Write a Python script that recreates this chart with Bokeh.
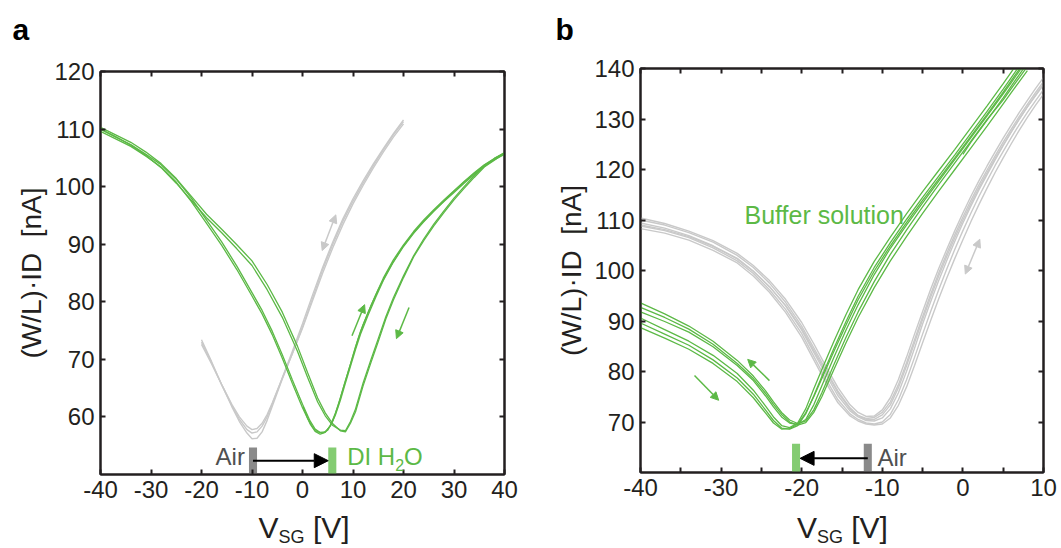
from bokeh.plotting import figure
from bokeh.models import (Range1d, LinearAxis, FixedTicker, Label, Arrow, NormalHead,
                          CustomJSTickFormatter, Title)
from bokeh.layouts import row, column
from bokeh.embed import file_html
from bokeh.resources import INLINE

# ================= DATA : panel a (DI water) =================
a_xticks = [-40, -30, -20, -10, 0, 10, 20, 30, 40]
a_yticks = [60, 70, 80, 90, 100, 110, 120]

# green, forward sweep that starts at 0 V
a_g0_x = [0.1, 1, 2, 3, 4, 5, 6, 7, 8, 9, 10, 11, 12, 13.5, 15, 16.5, 18, 20, 22, 24,
          26, 28, 30, 32, 34, 36, 38, 40]
a_g0_y = [61.8, 59.8, 58.2, 57.4, 57.2, 57.7, 59.3, 61.8, 64.8, 67.7, 70.6, 73.5, 76.0, 79.2,
          82.1, 84.7, 87.0, 89.7, 92.0, 94.0, 95.8, 97.5, 99.2, 100.8, 102.3, 103.7, 104.9, 105.9]
# green, forward sweeps
a_gf_x = [-40, -37, -34, -31, -28, -25, -22, -19, -16, -13, -10, -8, -6, -4, -2, 0, 1.5, 2.5,
          3.5, 4.5, 5.5, 6.5, 7.5, 8.5, 9.5, 10.5, 11.5, 13, 14.5, 16, 18, 20, 22, 24, 26, 28,
          30, 32, 34, 36, 38, 40]
a_gf1_y = [109.6, 108.3, 107.0, 105.3, 103.4, 100.8, 97.4, 93.6, 89.8, 85.6, 81.0, 77.9, 74.3,
           70.2, 65.8, 61.6, 58.8, 57.5, 57.0, 57.3, 58.5, 60.6, 63.3, 66.3, 69.2, 72.2, 74.9,
           78.2, 81.2, 84.1, 87.3, 89.9, 92.2, 94.2, 96.0, 97.7, 99.3, 100.9, 102.4, 103.8,
           104.9, 105.8]
a_gf2_y = [110.0, 108.6, 107.3, 105.6, 103.8, 101.3, 98.0, 94.2, 90.4, 86.2, 81.6, 78.5, 74.9,
           70.8, 66.4, 62.2, 59.3, 57.9, 57.3, 57.4, 58.4, 60.3, 62.9, 65.9, 68.8, 71.7, 74.4,
           77.7, 80.8, 83.7, 86.9, 89.6, 91.9, 93.9, 95.7, 97.4, 99.0, 100.6, 102.1, 103.5,
           104.7, 105.6]
# green, reverse sweeps
a_gr_x = [-40, -37, -34, -31, -28, -25, -22, -19, -16, -13, -10, -7, -4, -1, 1, 3, 4.5, 6,
          7.5, 8.5, 9.5, 10.5, 12, 13.5, 15, 16.5, 18, 20, 22, 24, 26, 28, 30, 32, 34, 36,
          38, 40]
a_gr1_y = [110.3, 109.0, 107.7, 106.0, 104.0, 101.4, 98.3, 95.2, 92.6, 89.9, 87.1, 83.0, 78.2,
           72.3, 67.7, 63.3, 60.7, 58.8, 57.6, 57.4, 58.9, 60.9, 65.4, 69.3, 73.1, 77.0, 80.3,
           84.2, 87.8, 90.6, 93.2, 95.5, 97.7, 99.7, 101.6, 103.4, 104.6, 105.8]
a_gr2_y = [110.0, 108.7, 107.2, 105.4, 103.3, 100.6, 97.6, 94.6, 92.0, 89.2, 86.3, 82.1, 77.3,
           71.4, 66.9, 62.6, 60.2, 58.5, 57.7, 57.6, 59.2, 61.4, 65.9, 69.8, 73.6, 77.4, 80.7,
           84.5, 88.0, 90.9, 93.5, 95.8, 98.0, 100.0, 101.9, 103.6, 104.8, 105.9]
# gray (air) sweeps
a_air_x = [-20, -18, -16, -14, -12.5, -11, -10, -9, -8, -7, -6, -4, -2, 0, 2, 4, 6, 8, 10,
           12, 14, 16, 18, 20]
a_air1_y = [73.4, 69.6, 65.6, 61.8, 59.2, 57.2, 56.2, 56.3, 57.4, 59.4, 61.8, 66.6, 71.0, 75.6,
            80.6, 85.6, 90.0, 94.0, 97.5, 100.6, 103.6, 106.4, 109.0, 111.3]
a_air2_y = [73.0, 69.4, 65.6, 62.0, 59.6, 57.8, 57.2, 57.4, 58.4, 60.0, 62.2, 66.8, 71.4, 76.2,
            81.2, 86.0, 90.4, 94.4, 97.9, 101.0, 103.9, 106.6, 109.2, 111.6]
a_air3_y = [72.6, 69.2, 65.6, 62.2, 60.0, 58.4, 57.8, 58.0, 58.9, 60.4, 62.4, 66.7, 71.0, 75.4,
            80.2, 85.0, 89.4, 93.4, 97.0, 100.2, 103.2, 106.0, 108.6, 110.9]
a_dirac_air = -9.8
a_dirac_liquid = 5.9

# ================= DATA : panel b (buffer solution) =================
b_xticks = [-40, -30, -20, -10, 0, 10]
b_xminor = [-35, -25, -15, -5, 5]
b_yticks = [70, 80, 90, 100, 110, 120, 130, 140]

b_air_x = [-40, -37, -34, -31, -28, -26, -24, -22, -20, -18.5, -17, -15.5, -14, -13, -12, -11,
           -10, -9, -8, -7, -6, -5, -4, -3, -2, -1, 0, 1, 2, 3, 4, 5, 6, 7, 8, 9, 10]
b_air1_y = [110.4, 109.3, 107.8, 105.9, 103.4, 101.0, 98.0, 94.3, 89.7, 85.5, 81.0, 76.8, 73.4,
            71.9, 71.1, 71.2, 72.4, 74.8, 78.4, 82.8, 87.4, 91.9, 96.3, 100.4, 104.2, 107.9,
            111.4, 114.7, 117.8, 120.7, 123.5, 126.2, 128.8, 131.3, 133.7, 136.0, 138.2]
b_air2_y = [110.0, 109.0, 107.5, 105.6, 103.0, 100.6, 97.5, 93.7, 89.0, 84.7, 80.3, 76.1, 72.8,
            71.3, 70.7, 70.9, 71.9, 74.0, 77.4, 81.7, 86.3, 90.9, 95.3, 99.5, 103.4, 107.1,
            110.6, 113.9, 117.0, 119.9, 122.7, 125.4, 128.0, 130.5, 132.9, 135.2, 137.4]
b_air3_y = [109.4, 108.4, 106.9, 104.9, 102.4, 99.9, 96.8, 93.0, 88.2, 83.8, 79.4, 75.2, 72.2,
            71.0, 70.3, 70.2, 70.8, 72.6, 75.8, 80.0, 84.6, 89.4, 93.8, 98.0, 102.0, 105.8,
            109.4, 112.8, 116.0, 119.0, 121.9, 124.7, 127.4, 130.0, 132.4, 134.6, 136.8]
b_air4_y = [108.8, 107.9, 106.5, 104.5, 101.9, 99.4, 96.2, 92.3, 87.5, 83.0, 78.5, 74.4, 71.6,
            70.5, 69.8, 69.6, 70.0, 71.5, 74.4, 78.3, 82.8, 87.4, 91.9, 96.2, 100.3, 104.2,
            107.9, 111.4, 114.7, 117.8, 120.8, 123.6, 126.3, 128.9, 131.3, 133.6, 135.8]
b_air5_y = [108.3, 107.4, 106.0, 104.0, 101.5, 98.9, 95.7, 91.7, 86.8, 82.3, 77.8, 73.8, 71.2,
            70.2, 69.6, 69.4, 69.6, 70.8, 73.3, 76.9, 81.2, 85.7, 90.1, 94.4, 98.5, 102.4,
            106.1, 109.7, 113.1, 116.3, 119.4, 122.3, 125.1, 127.8, 130.3, 132.7, 134.9]
b_air6_y = [109.0, 108.1, 106.7, 104.8, 102.3, 99.8, 96.8, 93.1, 88.5, 84.2, 79.9, 75.8, 72.6,
            71.2, 70.5, 70.5, 71.4, 73.4, 76.8, 81.1, 85.7, 90.3, 94.7, 98.9, 102.8, 106.5,
            110.0, 113.3, 116.4, 119.4, 122.2, 124.9, 127.5, 130.0, 132.4, 134.7, 136.9]

b_liq_x = [-40, -37, -34, -31, -28, -26, -24.5, -23.5, -22.5, -21.5, -20.5, -19.5, -18.5, -17.5,
           -16, -14.5, -13, -11, -9, -7, -5, -3, -1, 1, 3, 5, 6, 7, 8]
b_fwd1_y = [90.6, 88.3, 86.0, 83.2, 79.6, 76.3, 73.2, 71.0, 69.3, 68.9, 69.8, 72.6, 76.6, 80.4,
            86.0, 91.3, 96.2, 101.8, 106.6, 111.2, 115.6, 119.8, 124.0, 128.3, 132.6, 137.0,
            139.3, 141.6, 143.9]
b_fwd2_y = [89.6, 87.4, 85.2, 82.3, 78.7, 75.5, 72.4, 70.3, 68.8, 68.6, 69.3, 71.6, 75.2, 79.0,
            84.6, 89.9, 94.9, 100.6, 105.5, 110.1, 114.5, 118.7, 122.9, 127.2, 131.5, 135.9,
            138.2, 140.5, 142.8]
b_fwd3_y = [88.7, 86.6, 84.4, 81.6, 78.0, 74.8, 71.8, 69.8, 68.6, 68.7, 69.6, 71.8, 75.0, 78.6,
            84.0, 89.2, 94.2, 99.9, 104.9, 109.5, 113.9, 118.1, 122.3, 126.6, 130.9, 135.3,
            137.6, 139.9, 142.2]
b_rev1_y = [93.6, 91.4, 89.0, 86.0, 82.2, 79.1, 76.2, 74.0, 71.9, 70.4, 69.7, 70.2, 72.4, 75.8,
            81.4, 86.8, 91.8, 97.8, 103.2, 108.0, 112.6, 117.0, 121.3, 125.6, 129.9, 133.8,
            136.0, 138.2, 140.4]
b_rev2_y = [92.7, 90.7, 88.4, 85.4, 81.6, 78.6, 75.7, 73.5, 71.5, 70.0, 69.4, 69.9, 71.9, 75.0,
            80.4, 85.7, 90.7, 96.6, 101.9, 106.7, 111.3, 115.7, 120.0, 124.3, 128.6, 133.0,
            135.2, 137.4, 139.6]
b_rev3_y = [91.8, 89.9, 87.8, 84.9, 81.2, 78.2, 75.2, 73.0, 71.0, 69.8, 69.5, 70.5, 73.4, 77.2,
            82.8, 88.2, 93.2, 99.2, 104.4, 109.0, 113.4, 117.7, 122.0, 126.3, 130.6, 135.0,
            137.2, 139.5, 141.8]
b_start_x = [0, 1, 3, 5, 6, 7, 8]
b_start_y = [123.0, 125.4, 129.8, 134.2, 136.5, 138.8, 141.1]
b_dirac_air = -11.8
b_dirac_liquid = -20.7

# ================= STYLE =================
FONT = "Liberation Sans"
AXC = "#231f20"
GREEN = "#5cb946"
GRAY = "#c9c9c9"
BAR_GRAY = "#8a8a8a"
BAR_GREEN = "#84cc72"
TXT_GRAY = "#505050"


def base_fig(w, h, bl, br, bt, bb, xr, yr, xticks, xminor, yticks, ylabel):
    p = figure(width=w, height=h, x_range=Range1d(*xr), y_range=Range1d(*yr), title=None,
               output_backend="svg", toolbar_location=None,
               min_border_left=bl, min_border_right=br, min_border_top=bt, min_border_bottom=bb)
    p.grid.visible = False
    p.outline_line_color = AXC
    p.outline_line_width = 2
    p.background_fill_color = "white"
    p.border_fill_color = "white"
    fmt = CustomJSTickFormatter(code="return String(tick)")
    p.xaxis.ticker = FixedTicker(ticks=xticks, minor_ticks=xminor)
    p.yaxis.ticker = FixedTicker(ticks=yticks, minor_ticks=[])
    p.xaxis.formatter = fmt
    p.yaxis.formatter = fmt
    p.add_layout(LinearAxis(ticker=FixedTicker(ticks=xticks, minor_ticks=xminor),
                            formatter=CustomJSTickFormatter(code="return ''")), "above")
    p.add_layout(LinearAxis(ticker=FixedTicker(ticks=yticks, minor_ticks=[]),
                            formatter=CustomJSTickFormatter(code="return ''")), "right")
    for ax in p.axis:
        ax.axis_line_color = AXC
        ax.axis_line_width = 2
        ax.major_tick_line_color = AXC
        ax.major_tick_line_width = 2
        ax.major_tick_in = 5
        ax.major_tick_out = 0
        ax.minor_tick_line_color = AXC if xminor else None
        ax.minor_tick_line_width = 2
        ax.minor_tick_in = 5
        ax.minor_tick_out = 0
        ax.major_label_text_font = FONT
        ax.major_label_text_font_size = "24px"
        ax.major_label_text_color = AXC
        ax.major_label_standoff = 6
    for ax in p.yaxis:
        ax.minor_tick_line_color = None
    p.right[0].major_label_text_font_size = "1px"
    p.above[0].major_label_text_font_size = "1px"
    p.right[0].major_label_standoff = 0
    p.above[0].major_label_standoff = 0
    p.yaxis[0].axis_label = ylabel
    p.yaxis[0].axis_label_text_font = FONT
    p.yaxis[0].axis_label_text_font_size = "28px"
    p.yaxis[0].axis_label_text_font_style = "normal"
    p.yaxis[0].axis_label_text_color = AXC
    p.yaxis[0].axis_label_standoff = 4
    return p


def text_fig(main, w, h, bl, br, bt=0):
    # strip above / below a main panel; shares its x range so that frames line up
    t = figure(width=w, height=h, x_range=main.x_range, y_range=Range1d(0, h - bt), title=None,
               output_backend="svg", toolbar_location=None, x_axis_type=None, y_axis_type=None,
               min_border_left=bl, min_border_right=br, min_border_top=bt, min_border_bottom=0)
    t.outline_line_color = None
    t.grid.visible = False
    t.background_fill_color = "white"
    t.border_fill_color = "white"
    return t


def txt(p, x, y, s, size="24px", color=AXC, align="left", style="normal"):
    p.add_layout(Label(x=x, y=y, text=s, text_font=FONT, text_font_size=size,
                       text_color=color, text_align=align, text_baseline="alphabetic",
                       text_font_style=style))


def letter(t, s, offset):
    t.add_layout(Title(text=s, align="left", offset=offset, standoff=0, text_font=FONT,
                       text_font_size="30px", text_font_style="bold", text_color="black"),
                 "above")


def arrow(p, x0, y0, x1, y1, color, size=8, both=False, lw=1.5):
    kw = dict(x_start=x0, y_start=y0, x_end=x1, y_end=y1, line_color=color, line_width=lw,
              end=NormalHead(size=size, fill_color=color, line_color=color, line_width=1))
    if both:
        kw["start"] = NormalHead(size=size, fill_color=color, line_color=color, line_width=1)
    p.add_layout(Arrow(**kw))


YLABEL = "(W/L)\u00b7ID\u00a0 [nA]"
TOP_H = 55
BOT_H = 38
MAIN_H = 455

# ---------- panel a ----------
WA = 538
pa = base_fig(WA, MAIN_H, 100, 34, 16, 36, (-40, 40), (50, 120), a_xticks, [], a_yticks, YLABEL)
for yy in (a_air1_y, a_air2_y, a_air3_y):
    pa.line(a_air_x, yy, line_color=GRAY, line_width=1.4)
pa.line(a_g0_x, a_g0_y, line_color=GREEN, line_width=1.3)
for yy in (a_gf1_y, a_gf2_y):
    pa.line(a_gf_x, yy, line_color=GREEN, line_width=1.3)
for yy in (a_gr1_y, a_gr2_y):
    pa.line(a_gr_x, yy, line_color=GREEN, line_width=1.3)

pa.vbar(x=[a_dirac_air], width=1.6, bottom=50, top=54.7, fill_color=BAR_GRAY, line_color=None)
pa.vbar(x=[a_dirac_liquid], width=1.6, bottom=50, top=54.7, fill_color=BAR_GREEN, line_color=None)
arrow(pa, a_dirac_air, 52.4, a_dirac_liquid - 0.8, 52.4, "black", size=14, lw=2)
txt(pa, -11.4, 53.2, "Air", color=TXT_GRAY, align="right")
txt(pa, 8.85, 53.2, "DI H", color=GREEN)
txt(pa, 18.35, 51.7, "2", size="16px", color=GREEN)
txt(pa, 20.1, 53.2, "O", color=GREEN)
arrow(pa, 3.9, 88.9, 6.6, 95.1, GRAY, size=8, both=True)
arrow(pa, 9.8, 74.1, 12.3, 79.5, GREEN, size=8)
arrow(pa, 21.1, 79.0, 18.6, 73.6, GREEN, size=8)

ta_top = text_fig(pa, WA, TOP_H, 100, 34, bt=45)
letter(ta_top, "a", -88)
ta_bot = text_fig(pa, WA, BOT_H, 100, 34)
txt(ta_bot, -8.71, 21.5, "V", size="30px")
txt(ta_bot, -4.75, 11.3, "SG", size="18px")
txt(ta_bot, 2.08, 21.5, "[V]", size="30px")

# ---------- panel b ----------
WB = 523
pb = base_fig(WB, MAIN_H, 102, 18, 13, 38, (-40, 10), (60, 140), b_xticks, b_xminor, b_yticks, YLABEL)
for yy in (b_air1_y, b_air2_y, b_air3_y, b_air4_y, b_air5_y, b_air6_y):
    pb.line(b_air_x, yy, line_color=GRAY, line_width=1.4)
for yy in (b_fwd1_y, b_fwd2_y, b_fwd3_y, b_rev1_y, b_rev2_y, b_rev3_y):
    pb.line(b_liq_x, yy, line_color=GREEN, line_width=1.3)
pb.line(b_start_x, b_start_y, line_color=GREEN, line_width=1.3)

pb.vbar(x=[b_dirac_liquid], width=1.0, bottom=60, top=65.7, fill_color=BAR_GREEN, line_color=None)
pb.vbar(x=[b_dirac_air], width=1.0, bottom=60, top=65.7, fill_color=BAR_GRAY, line_color=None)
arrow(pb, b_dirac_air, 62.8, b_dirac_liquid + 0.5, 62.8, "black", size=14, lw=2)
txt(pb, -10.6, 63.05, "Air", color=TXT_GRAY)
txt(pb, -27.1, 111.0, "Buffer solution", size="25px", color=GREEN)
arrow(pb, 0.3, 99.3, 2.1, 106.2, GRAY, size=8, both=True)
arrow(pb, -24.0, 78.2, -26.7, 82.4, GREEN, size=8)
arrow(pb, -33.3, 79.2, -30.3, 74.3, GREEN, size=8)

tb_top = text_fig(pb, WB, TOP_H, 102, 18, bt=45)
letter(tb_top, "b", -85)
tb_bot = text_fig(pb, WB, BOT_H, 102, 18)
txt(tb_bot, -20.58, 21.5, "V", size="30px")
txt(tb_bot, -18.1, 11.3, "SG", size="18px")
txt(tb_bot, -13.85, 21.5, "[V]", size="30px")

layout = row(column(ta_top, pa, ta_bot), column(tb_top, pb, tb_bot))
open("out.html", "w").write(file_html(layout, INLINE))
